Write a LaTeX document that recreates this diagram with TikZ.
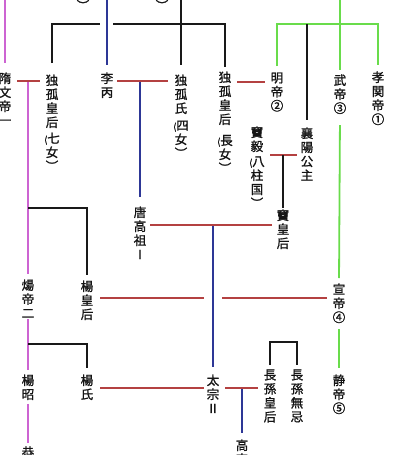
\documentclass[tikz,border=0pt]{standalone}
\usepackage{fontspec}
\newfontfamily\cjk[RawFeature={embolden=1.2}]{Noto Sans CJK JP}
\definecolor{cPu}{RGB}{205,100,210}
\definecolor{cGr}{RGB}{105,220,75}
\definecolor{cBl}{RGB}{45,55,150}
\definecolor{cRd}{RGB}{180,65,65}
\definecolor{cBk}{RGB}{25,25,25}
\definecolor{cTx}{RGB}{20,20,20}
\newcommand{\op}{{\fontsize{9}{9}\selectfont(}}
\tikzset{
  nm/.style={inner sep=0pt, outer sep=0pt, align=center, anchor=north, text=cTx,
    font=\cjk\fontsize{12.5}{14}\selectfont},
  pu/.style={draw=cPu, line width=1.8pt},
  gr/.style={draw=cGr, line width=1.8pt},
  bl/.style={draw=cBl, line width=1.5pt},
  rd/.style={draw=cRd, line width=1.6pt},
  bk/.style={draw=cBk, line width=1.5pt},
}
\begin{document}
\begin{tikzpicture}[x=1pt,y=-1pt]
\useasboundingbox[fill=white] (0,0) rectangle (400,455);
% ---------- nodes ----------
\node[nm] (sui) at (5,72.5) {隋\\文\\帝\\一};
\node[nm] (dk7) at (52,74.5) {独\\孤\\皇\\后\\[2pt]\op 七\\女\\︶};
\node[nm] (libing) at (107,72.5) {李\\丙};
\node[nm] (dk4) at (181,74.5) {独\\孤\\氏\\[3pt]\op 四\\女\\︶};
\node[nm] (dkc) at (225,71.5) {独\\孤\\皇\\后\\[7pt]\op 長\\女\\︶};
\node[nm] (ming) at (277,72.5) {明\\帝\\②};
\node[nm] (wu) at (340,74.5) {武\\帝\\③};
\node[nm] (xiao) at (378,71.5) {孝\\関\\帝\\①};
\node[nm] (xiang) at (307,127.5) {襄\\陽\\公\\主};
\node[nm] (douyi) at (257,126.5) {竇\\毅\\[1pt]\op 八\\柱\\国\\︶};
\node[nm] (douh) at (283,209.5) {竇\\皇\\后};
\node[nm] (tang) at (140,206.5) {唐\\高\\祖\\Ⅰ};
\node[nm] (xuan) at (339,283.5) {宣\\帝\\④};
\node[nm] (yangh) at (87,280.5) {楊\\皇\\后};
\node[nm] (yangdi) at (28,279.5) {煬\\帝\\二};
\node[nm] (yangzhao) at (28,374.5) {楊\\昭};
\node[nm] (yangshi) at (87,374.5) {楊\\氏};
\node[nm] (taizong) at (213,374.5) {太\\宗\\Ⅱ};
\node[nm] (zhangh) at (270,369.5) {長\\孫\\皇\\后};
\node[nm] (wuji) at (297,369.5) {長\\孫\\無\\忌};
\node[nm] (jing) at (339,374.5) {静\\帝\\⑤};
\node[nm] (gaozong) at (242,439.5) {高\\宗};
\node[nm] (gong) at (28,446.5) {恭};
\node[nm] (topa) at (83,0) {︶};
\node[nm] (topb) at (162,0) {︶};
% ---------- coordinates ----------
\coordinate (suiTop) at (5,0);
\coordinate (liTop) at (107,0);
\coordinate (duguTop) at (181,0);
\coordinate (greenTop) at (340,0);
\coordinate (hz) at (0,24);
\coordinate (mSuiL) at (17,81);  \coordinate (mSuiR) at (40,81);  \coordinate (mSui) at (28,81);
\coordinate (mLiL) at (117,81);  \coordinate (mLiR) at (168,81);  \coordinate (mLi) at (140,81);
\coordinate (mMingL) at (237,82); \coordinate (mMingR) at (265,82);
\coordinate (mDouL) at (270,155); \coordinate (mDouR) at (297,155); \coordinate (mDou) at (283,155);
\coordinate (mTangL) at (150,225); \coordinate (mTangR) at (272,225); \coordinate (mTang) at (213,225);
\coordinate (mXuanL) at (100,298); \coordinate (mXuanA) at (204,298);
\coordinate (mXuanB) at (222,298); \coordinate (mXuanR) at (327,298);
\coordinate (mShiL) at (100,388); \coordinate (mShiR) at (204,388);
\coordinate (mTzL) at (225,388); \coordinate (mTzR) at (258,388); \coordinate (mTz) at (242,388);
\coordinate (gapL) at (100,24); \coordinate (gapR) at (113,24);
\coordinate (jYang1) at (28,208);
\coordinate (jYang2) at (28,344);
\coordinate (zs) at (0,342);
% ---------- black (Dugu family) ----------
\draw[bk, shorten >=9.5pt] (duguTop) -- (dk4.north);
\draw[bk, shorten <=11.5pt] (dk7.north) -- (dk7.north |- gapL) -- (gapL);
\draw[bk, shorten >=4.5pt] (gapR) -- (dkc.north |- gapR) -- (dkc.north);
% ---------- blue (Tang) ----------
\draw[bl, shorten >=7.5pt] (liTop) -- (libing.north);
\draw[bl, shorten >=9.5pt] (mLi) -- (tang.north);
\draw[bl, shorten >=7.5pt] (mTang) -- (taizong.north);
\draw[bl, shorten >=6.5pt] (mTz) -- (gaozong.north);
% ---------- purple (Sui) ----------
\draw[pu, shorten >=10pt] (suiTop) -- (sui.north);
\draw[pu, shorten >=6pt] (mSui) -- (yangdi.north);
\draw[pu, shorten <=1.5pt, shorten >=4.5pt] (yangdi.south) -- (yangzhao.north);
\draw[pu, shorten <=4pt, shorten >=3.5pt] (yangzhao.south) -- (gong.north);
\draw[bk, shorten >=5.5pt] (jYang1) -- (yangh.north |- jYang1) -- (yangh.north);
\draw[bk, shorten >=6.5pt] (jYang2) -- (yangshi.north |- jYang2) -- (yangshi.north);
% ---------- green (Northern Zhou) ----------
\draw[gr, shorten >=5pt] (greenTop) -- (wu.north);
\draw[gr, shorten <=6.5pt, shorten >=6.5pt] (ming.north) -- (ming.north |- hz) -- (xiao.north |- hz) -- (xiao.north);
\draw[bk, shorten >=7.5pt] (xiang.north |- hz) -- (xiang.north);
\draw[gr, shorten <=11pt, shorten >=5.5pt] (wu.south) -- (xuan.north);
\draw[gr, shorten <=6pt, shorten >=6.5pt] (xuan.south) -- (jing.north);
% ---------- marriages (red) ----------
\draw[rd] (mSuiL) -- (mSuiR);
\draw[rd] (mLiL) -- (mLiR);
\draw[rd] (mMingL) -- (mMingR);
\draw[rd] (mDouL) -- (mDouR);
\draw[bk, shorten >=2pt] (mDou) -- (douh.north);
\draw[rd] (mTangL) -- (mTangR);
\draw[rd] (mXuanL) -- (mXuanA);
\draw[rd] (mXuanB) -- (mXuanR);
\draw[rd] (mShiL) -- (mShiR);
\draw[rd] (mTzL) -- (mTzR);
% ---------- Changsun siblings ----------
\draw[bk, shorten <=4.5pt, shorten >=4.5pt] (zhangh.north) -- (zhangh.north |- zs) -- (wuji.north |- zs) -- (wuji.north);
\end{tikzpicture}
\end{document}
